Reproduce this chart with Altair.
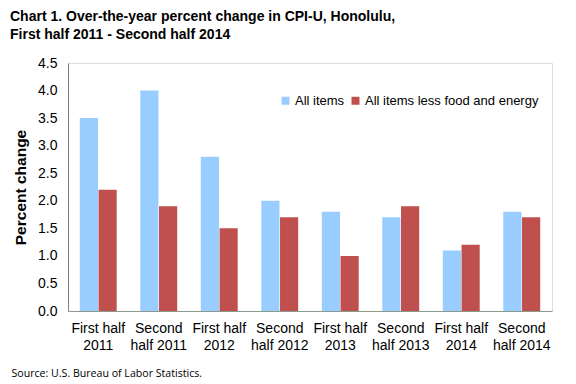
import altair as alt
import pandas as pd

periods = ["First half|2011", "Second|half 2011", "First half|2012", "Second|half 2012",
           "First half|2013", "Second|half 2013", "First half|2014", "Second|half 2014"]
all_items = [3.5, 4.0, 2.8, 2.0, 1.8, 1.7, 1.1, 1.8]
less_food_energy = [2.2, 1.9, 1.5, 1.7, 1.0, 1.9, 1.2, 1.7]
series_names = ["All items", "All items less food and energy"]
series_colors = ["#99CCFF", "#C0504D"]
y_ticks = [0, 0.5, 1, 1.5, 2, 2.5, 3, 3.5, 4, 4.5]

rows = []
for p, a, b in zip(periods, all_items, less_food_energy):
    rows.append({"period": p, "series": series_names[0], "value": a})
    rows.append({"period": p, "series": series_names[1], "value": b})
df = pd.DataFrame(rows)

FONT = "Liberation Sans"

chart = alt.Chart(df).mark_bar().encode(
    x=alt.X("period:N", sort=periods,
            scale=alt.Scale(paddingInner=0.39, paddingOuter=0.195),
            axis=alt.Axis(title="Source: U.S. Bureau of Labor Statistics.",
                          titleFont="Open Sans", titleFontSize=10.6, titleFontWeight="normal",
                          titleColor="#000000", titleAnchor="start", titleAlign="left",
                          titleBaseline="alphabetic", titleX=-57, titleY=65,
                          labelExpr="split(datum.value, '|')", labelAngle=0,
                          labelFont=FONT, labelFontSize=14, labelColor="#000000",
                          labelLineHeight=17, labelPadding=10, ticks=False,
                          domainColor="#8c9a8c", labelBaseline="top")),
    xOffset=alt.XOffset("series:N", sort=series_names,
                        scale=alt.Scale(paddingInner=0.03)),
    y=alt.Y("value:Q", scale=alt.Scale(domain=[0, 4.5], nice=False),
            axis=alt.Axis(title="Percent change", values=y_ticks, format=".1f",
                          titleFont=FONT, titleFontSize=15.5, titleFontWeight="bold",
                          titleColor="#000000", titleX=-48, titleY=124,
                          titleBaseline="middle", titleAlign="center",
                          labelFont=FONT, labelFontSize=14, labelColor="#000000",
                          labelPadding=11, ticks=False, grid=False,
                          domainColor="#808080")),
    color=alt.Color("series:N", sort=series_names,
                    scale=alt.Scale(domain=series_names, range=series_colors),
                    legend=alt.Legend(title=None, orient="none", direction="horizontal",
                                      legendX=211, legendY=31, symbolType="square",
                                      symbolSize=64, symbolStrokeWidth=0,
                                      labelFont=FONT, labelFontSize=13, labelColor="#000000",
                                      labelLimit=400, columnPadding=4, labelOffset=3)),
).properties(
    width=484, height=248,
    title=alt.TitleParams(
        ["Chart 1. Over-the-year percent change in CPI-U, Honolulu,",
         "First half 2011 - Second half 2014"],
        anchor="start", frame="group", dx=-58, font=FONT, fontSize=14,
        fontWeight="bold", color="#000000", lineHeight=18, offset=14),
    autosize=alt.AutoSizeParams(type="none"),
    padding={"left": 60, "top": 55, "right": 8, "bottom": 70},
).configure_view(stroke="#8c9a8c", strokeWidth=1).configure(background="white")

chart.save("out.html", embed_options={"renderer": "svg", "actions": False})
